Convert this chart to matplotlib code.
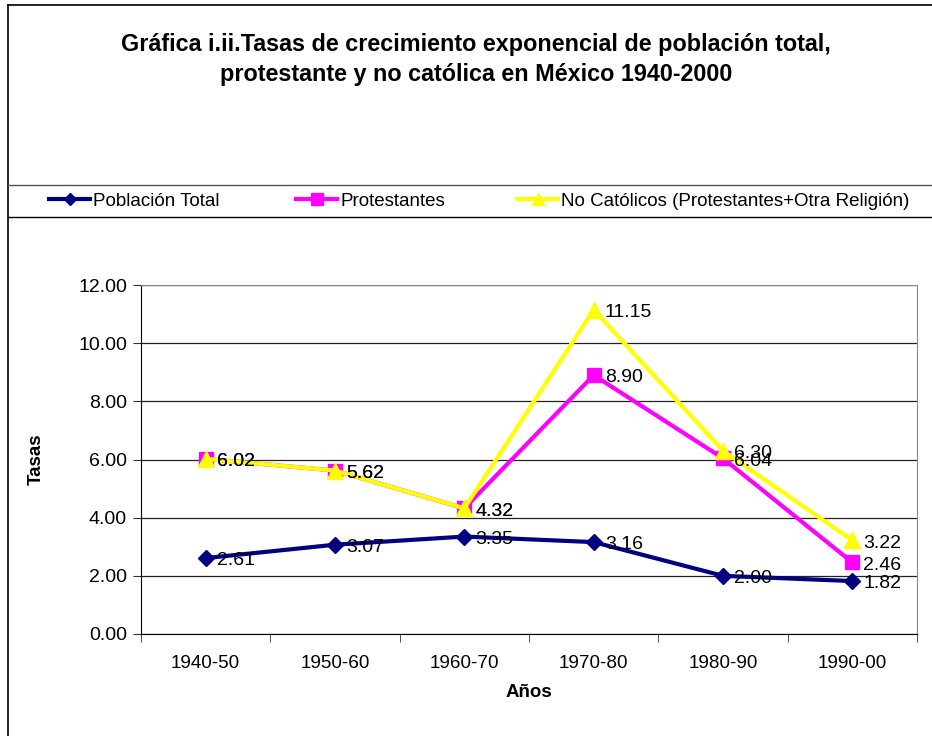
import matplotlib
matplotlib.use("Agg")
import matplotlib.pyplot as plt
from matplotlib.lines import Line2D

plt.rcParams['font.family'] = ['Liberation Sans', 'DejaVu Sans']

categories = ["1940-50", "1950-60", "1960-70", "1970-80", "1980-90", "1990-00"]
total = [2.61, 3.07, 3.35, 3.16, 2.00, 1.82]
protestantes = [6.02, 5.62, 4.32, 8.90, 6.04, 2.46]
no_catolicos = [6.02, 5.62, 4.32, 11.15, 6.30, 3.22]
yticks = [0, 2, 4, 6, 8, 10, 12]

W, H = 932, 736
fig = plt.figure(figsize=(W / 100, H / 100), dpi=100)

def fx(px):
    return px / W

def fy(py):
    return 1 - py / H

# outer frame lines
fig.add_artist(Line2D([fx(8), fx(8)], [fy(5), 0], color='black', lw=1.2, transform=fig.transFigure))
fig.add_artist(Line2D([fx(8), 1], [fy(5), fy(5)], color='black', lw=1.2, transform=fig.transFigure))
fig.add_artist(Line2D([fx(8), 1], [fy(185), fy(185)], color='#555555', lw=1.0, transform=fig.transFigure))
fig.add_artist(Line2D([fx(8), 1], [fy(217), fy(217)], color='black', lw=1.0, transform=fig.transFigure))

fig.text(fx(476), fy(44), "Gráfica i.ii.Tasas de crecimiento exponencial de población total,",
         ha='center', va='center', fontsize=16.8, fontweight='bold')
fig.text(fx(476), fy(74), "protestante y no católica en México 1940-2000",
         ha='center', va='center', fontsize=16.8, fontweight='bold')

left, right, top, bottom = 141, 917, 285, 634
ax = fig.add_axes([fx(left), fy(bottom), fx(right - left), (bottom - top) / H])

x = list(range(len(categories)))
l1, = ax.plot(x, total, color='#000080', lw=3, marker='D', ms=8, label='Población Total', zorder=4)
l2, = ax.plot(x, protestantes, color='#FF00FF', lw=3, marker='s', ms=10, label='Protestantes', zorder=3)
l3, = ax.plot(x, no_catolicos, color='#FFFF00', lw=3, marker='^', ms=11, label='No Católicos (Protestantes+Otra Religión)', zorder=3)

for series in (total, protestantes, no_catolicos):
    for xi, v in zip(x, series):
        ax.annotate(f"{v:.2f}", (xi, v), xytext=(8, -2), textcoords='offset points',
                    ha='left', va='center', fontsize=14, color='black', zorder=6)

ax.set_xlim(-0.5, len(categories) - 0.5)
ax.set_ylim(0, 12)
ax.set_yticks(yticks)
ax.set_yticklabels([f"{v:.2f}" for v in yticks], fontsize=14)
ax.set_xticks(x)
ax.set_xticklabels(categories, fontsize=13.6)
ax.tick_params(axis='x', length=0, pad=15)
ax.set_xticks([i + 0.5 for i in range(-1, len(categories))], minor=True)
ax.tick_params(axis='x', which='minor', length=6, direction='out', color='#333333')
ax.tick_params(axis='y', length=6, direction='out', color='#333333', pad=4)
ax.yaxis.grid(True, color='#222222', lw=0.9)
ax.set_axisbelow(True)
for s in ('top', 'right'):
    ax.spines[s].set_color('#888888')
ax.spines['left'].set_color('black')
ax.spines['bottom'].set_color('black')

ax.set_ylabel("Tasas", fontsize=13.5, fontweight='bold', labelpad=24)
ax.set_xlabel("Años", fontsize=13.5, fontweight='bold', labelpad=9)

for handle, xpos in ((l1, 49), (l2, 296), (l3, 517)):
    fig.legend(handles=[handle], loc='center left', bbox_to_anchor=(fx(xpos), fy(201)),
               frameon=False, fontsize=13.5, handlelength=2.2, handletextpad=0.15,
               borderpad=0, borderaxespad=0, markerscale=0.8)

fig.savefig("out.png", dpi=100)
